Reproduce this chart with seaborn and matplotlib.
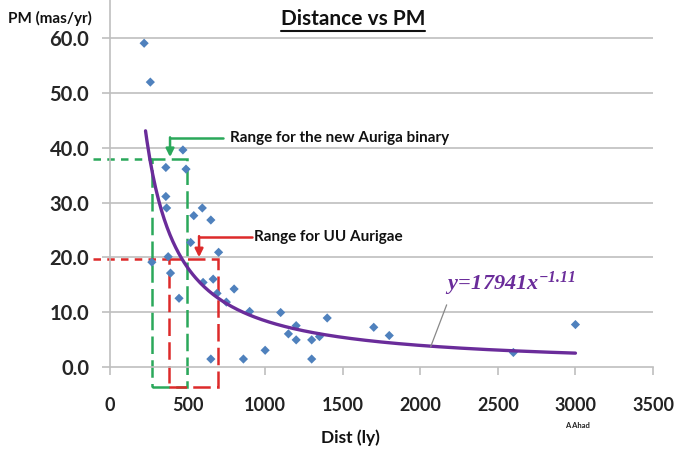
import numpy as np
import pandas as pd
import seaborn as sns
import matplotlib.pyplot as plt
from matplotlib.lines import Line2D
from matplotlib.patches import Rectangle

# distance vs proper motion scatter with power-law trend and the two range boxes

dist_ly = [220, 260, 270, 360, 360, 365, 375, 390, 445, 470, 490, 520, 540,
           595, 600, 650, 650, 665, 690, 700, 750, 800, 860, 900, 1000, 1100,
           1150, 1200, 1200, 1300, 1300, 1350, 1400, 1700, 1800, 2600, 3000]
pm_mas = [59.1, 52.0, 19.1, 31.1, 36.4, 29.0, 20.1, 17.1, 12.5, 39.6, 36.1,
          22.7, 27.6, 29.0, 15.4, 26.8, 1.4, 16.0, 13.4, 20.9, 11.8, 14.2,
          1.4, 10.1, 3.0, 9.9, 6.0, 7.5, 4.9, 4.9, 1.4, 5.5, 8.9, 7.2, 5.7,
          2.6, 7.7]

# trendline y = a * x^b as printed on the chart
fit_a = 17941
fit_b = -1.11
fit_range = [229, 3000]

# ranges: (x_min, x_max, pm_top)
auriga_range = [270, 497, 37.9]
uu_range = [383, 695, 19.6]

x_ticks = [0, 500, 1000, 1500, 2000, 2500, 3000, 3500]
y_ticks = [0, 10, 20, 30, 40, 50, 60]

sns.set_style('white')
plt.rcParams['font.family'] = ['Lato', 'DejaVu Sans']
plt.rcParams['mathtext.fontset'] = 'custom'
plt.rcParams['mathtext.rm'] = 'Liberation Serif:bold:italic'
plt.rcParams['mathtext.it'] = 'Liberation Serif:bold:italic'

fig = plt.figure(figsize=(6.86, 4.51), dpi=100)
ax = fig.add_axes([110 / 686, 1 - 366.7 / 451, 543 / 686, 366.7 / 451])

grid_c = '#bfbfbf'
blue = '#4f81bd'
purple = '#6a2c9a'
green = '#2aa85a'
red = '#dd2a2a'

df = pd.DataFrame({'dist': dist_ly, 'pm': pm_mas})
sns.scatterplot(data=df, x='dist', y='pm', marker='D', s=22, color=blue,
                edgecolor='none', ax=ax, zorder=3)

xs = np.linspace(fit_range[0], fit_range[1], 300)
fit_df = pd.DataFrame({'dist': xs, 'pm': fit_a * xs ** fit_b})
sns.lineplot(data=fit_df, x='dist', y='pm', color=purple, linewidth=2.4,
             ax=ax, zorder=4)

ax.set_xlim(0, 3500)
ax.set_ylim(0, 67)
ax.set_xticks(x_ticks)
ax.set_yticks(y_ticks)
ax.set_xticklabels([str(t) for t in x_ticks])
ax.set_yticklabels([f'{t:.1f}' for t in y_ticks])
ax.set_xlabel('')
ax.set_ylabel('')

for v in y_ticks[1:]:
    ax.axhline(v, color=grid_c, linewidth=1.2, zorder=1)

for side in ['top', 'right']:
    ax.spines[side].set_visible(False)
for side in ['left', 'bottom']:
    ax.spines[side].set_color(grid_c)
    ax.spines[side].set_linewidth(1.2)

ax.tick_params(axis='y', direction='out', length=6, width=1.2, color=grid_c,
               pad=9, labelsize=14.5, left=True)
ax.tick_params(axis='x', direction='out', length=6, width=1.2, color=grid_c,
               pad=16, labelsize=13, bottom=True)
for lab in ax.get_yticklabels():
    lab.set_fontweight('bold')
for lab in ax.get_xticklabels():
    lab.set_fontweight('bold')
    lab.set_color('#222222')

# range boxes with dashed leader lines to the y axis
box_bottom = -3.65
for (x0, x1, top), c in [(auriga_range, green), (uu_range, red)]:
    rect = Rectangle((x0, box_bottom), x1 - x0, top - box_bottom, fill=False,
                     edgecolor=c, linewidth=1.8, linestyle=(0, (7, 2.5)),
                     clip_on=False, zorder=2)
    ax.add_patch(rect)
    ax.plot([-110, x0], [top, top], color=c, linewidth=1.8,
            linestyle=(0, (3, 2.5)), clip_on=False, zorder=2)

# labels with elbow arrows
ax.plot([728, 387], [41.8, 41.8], color=green, linewidth=1.8, zorder=5)
ax.annotate('', xy=(387, 38.3), xytext=(387, 41.9),
            arrowprops=dict(arrowstyle='-|>', color=green, lw=1.8,
                            mutation_scale=12, shrinkA=0, shrinkB=0), zorder=5)
ax.text(775, 41.8, 'Range for the new Auriga binary', fontsize=11,
        fontweight='bold', va='center', ha='left', color='#111111')

ax.plot([913, 574], [23.75, 23.75], color=red, linewidth=1.8, zorder=5)
ax.annotate('', xy=(574, 20.0), xytext=(574, 23.85),
            arrowprops=dict(arrowstyle='-|>', color=red, lw=1.8,
                            mutation_scale=12, shrinkA=0, shrinkB=0), zorder=5)
ax.text(925, 23.75, 'Range for UU Aurigae', fontsize=11,
        fontweight='bold', va='center', ha='left', color='#111111')

# equation label with leader line
ax.plot([2170, 2067], [11.3, 3.65], color='#888888', linewidth=0.9, zorder=5)
ax.text(2160, 15.2, r'$y\!=\!17941x^{-1.11}$', fontsize=16, color=purple,
        ha='left', va='center')

fig.text(8 / 686, 1 - 18 / 451, 'PM (mas/yr)', fontsize=11, fontweight='bold',
         va='center', ha='left', color='#111111')
title = fig.text(353 / 686, 1 - 19 / 451, 'Distance vs PM', fontsize=15,
                 fontweight='bold', va='center', ha='center', color='#111111')
fig.text(350 / 686, 1 - 438 / 451, 'Dist (ly)', fontsize=12.5,
         fontweight='bold', va='center', ha='center', color='#111111')
fig.text(577 / 686, 1 - 426 / 451, 'A Ahad', fontsize=5.5, fontweight='bold',
         va='center', ha='center', color='#222222')

fig.canvas.draw()
bb = title.get_window_extent()
uy = bb.y0 - 2
fig.add_artist(Line2D([bb.x0 / 686, bb.x1 / 686], [uy / 451, uy / 451],
                      color='#111111', linewidth=1.5))

fig.savefig('out.png', dpi=100)
